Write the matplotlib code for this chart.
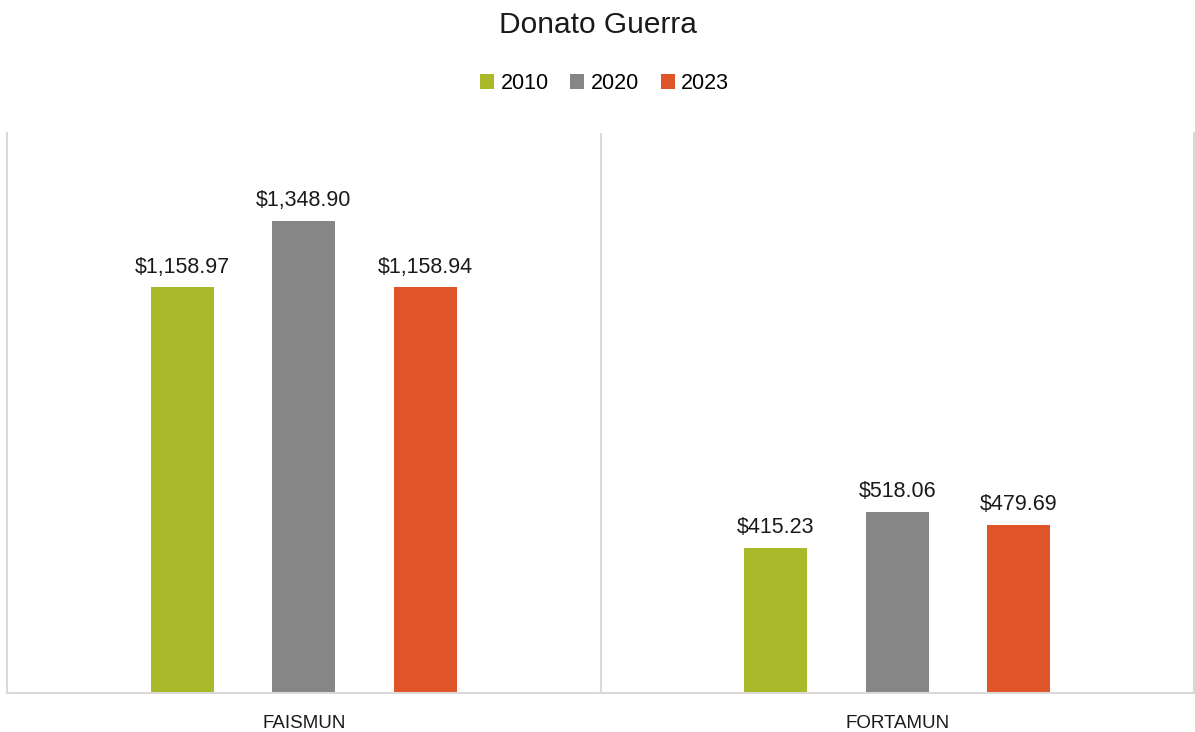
import numpy as np
import matplotlib.pyplot as plt

plt.rcParams['font.family'] = ['Liberation Sans', 'DejaVu Sans']

categories = ["FAISMUN", "FORTAMUN"]
years = ["2010", "2020", "2023"]
values_2010 = [1158.97, 415.23]
values_2020 = [1348.90, 518.06]
values_2023 = [1158.94, 479.69]
colors = ["#A9B92A", "#868686", "#E05528"]

fig = plt.figure(figsize=(11.95, 7.32), dpi=100)
ax = fig.add_axes([7 / 1195, 39 / 732, 1187 / 1195, 560 / 732])

x = np.arange(len(categories))
width = 0.106
offset = 0.205
series = [values_2010, values_2020, values_2023]
for i, (vals, col, yr) in enumerate(zip(series, colors, years)):
    pos = x + (i - 1) * offset
    bars = ax.bar(pos, vals, width, color=col, label=yr)
    for b, v in zip(bars, vals):
        ax.text(b.get_x() + b.get_width() / 2, v + 28, "${:,.2f}".format(v),
                ha='center', va='bottom', fontsize=15.5, color='#1a1a1a')

ax.set_xlim(-0.5, 1.5)
ax.set_ylim(0, 1600)
ax.set_yticks([])
ax.set_xticks(x)
ax.set_xticklabels(categories, fontsize=13.5, color='#1a1a1a')
ax.tick_params(axis='x', length=0, pad=16)

for s in ['left', 'right', 'bottom']:
    ax.spines[s].set_color('#D9D9D9')
    ax.spines[s].set_linewidth(1.5)
ax.spines['top'].set_visible(False)
ax.axvline(0.5, color='#D9D9D9', lw=1.5)

fig.suptitle("Donato Guerra", y=0.966, va='center', fontsize=21.5, color='#1a1a1a')
fig.legend(loc='center', bbox_to_anchor=(0.506, 0.886), ncol=3, frameon=False,
           fontsize=15.5, handlelength=0.65, handleheight=0.65, handletextpad=0.3,
           columnspacing=1.0)

fig.savefig("out.png", dpi=100)
